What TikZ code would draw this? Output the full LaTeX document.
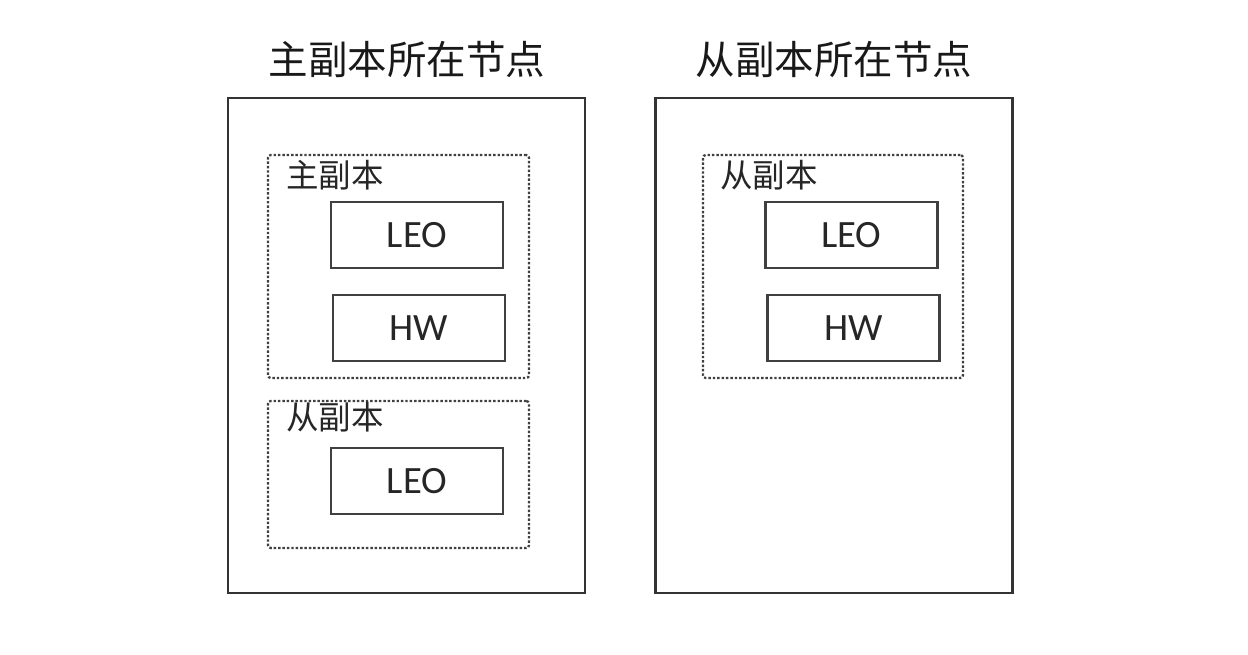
\documentclass[tikz,border=0pt]{standalone}
\usepackage{fontspec}
\setmainfont{Carlito}
\newfontfamily\cjk{Noto Sans CJK SC}
\begin{document}
\begin{tikzpicture}[x=0.02cm,y=-0.02cm,
    outerbox/.style={draw=black!80,line width=1.4pt,minimum width=7.14cm,minimum height=9.9cm,inner sep=0pt},
    replbox/.style={draw=black!75,line width=1.3pt,dash pattern=on 1.4pt off 1.1pt,rounded corners=1.5pt,minimum width=5.22cm,inner sep=0pt},
    partbox/.style={draw=black!75,line width=1.4pt,minimum width=3.44cm,minimum height=1.32cm,inner sep=0pt,font=\fontsize{22}{24}\selectfont,text=black!85},
    title/.style={font=\cjk\fontsize{22.5}{24}\selectfont,text=black!90},
    label/.style={font=\cjk\fontsize{18.5}{20}\selectfont,text=black!85,anchor=west,inner sep=0pt}]
    \useasboundingbox (0,0) rectangle (1248,654);
    % left node
    \node[title] (ltitle) at (407,60) {主副本所在节点};
    \node[outerbox] (lnode) at (406.5,345.5) {};
    \node[replbox,minimum height=4.46cm] (lprim) at (398.5,266.5) {};
    \node[label] (lprimlbl) at (286,175) {主副本};
    \node[partbox] (lprimleo) at (417,235) {LEO};
    \node[partbox] (lprimhw) at (419,328) {HW};
    \node[replbox,minimum height=2.94cm] (lsec) at (398.5,474.5) {};
    \node[label] (lseclbl) at (286,417) {从副本};
    \node[partbox] (lsecleo) at (417,481) {LEO};
    % right node
    \node[title] (rtitle) at (834,60) {从副本所在节点};
    \node[outerbox] (rnode) at (834,345.5) {};
    \node[replbox,minimum height=4.46cm,minimum width=5.2cm] (rsec) at (833,266.5) {};
    \node[label] (rseclbl) at (720,175) {从副本};
    \node[partbox] (rsecleo) at (851.5,235) {LEO};
    \node[partbox] (rsechw) at (853.5,328) {HW};
\end{tikzpicture}
\end{document}
